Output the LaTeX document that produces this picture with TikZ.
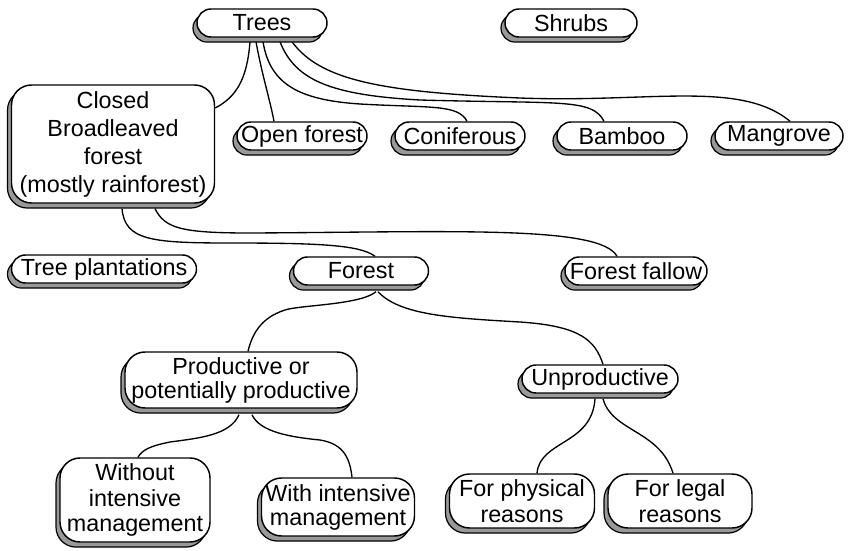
\documentclass[tikz,border=0pt]{standalone}
\usepackage{fontspec}
\setmainfont{Liberation Sans}
\usetikzlibrary{shadows,calc,backgrounds}
\begin{document}
\begin{tikzpicture}[x=0.75pt,y=-0.75pt,
  nw/.style={minimum width=#1*0.75pt},
  nh/.style={minimum height=#1*0.75pt},
  box/.style={draw, line width=1.1pt, fill=white, inner sep=0pt, align=center,
    font=\fontsize{17.5}{19}\selectfont,
    general shadow={shadow xshift=-3pt, shadow yshift=-3.8pt, fill=black!40,
      draw=black, line width=0.9pt}},
  pill/.style={box, nh=28, rounded corners=10.5pt},
  card/.style={box, rounded corners=15pt},
  link/.style={draw, line width=1pt}]
\useasboundingbox (0,0) rectangle (852,550);

% top row
\node[pill, nw=130] (trees)  at (262,23) {Trees};
\node[pill, nw=132] (shrubs) at (571,23) {Shrubs};

% tree types
\node[card, nw=203, nh=118, font=\fontsize{17.5}{21}\selectfont] (closed) at (113,144)
  {Closed\\Broadleaved\\forest\\(mostly rainforest)};
\node[pill, nw=130] (open)     at (302,136) {Open forest};
\node[pill, nw=130] (conif)    at (460,136) {Coniferous};
\node[pill, nw=130] (bamboo)   at (622,136) {Bamboo};
\node[pill, nw=128] (mangrove) at (779,136) {Mangrove};

% forest row
\node[pill, nw=185] (plant)  at (104,269) {Tree plantations};
\node[pill, nw=135] (forest) at (361,271) {Forest};
\node[pill, nw=142] (fallow) at (636,271) {Forest fallow};

% forest subdivisions
\node[card, nw=232, nh=56, font=\fontsize{17.5}{18}\selectfont] (prod) at (241,380)
  {Productive or\\potentially productive};
\node[pill, nw=156] (unprod) at (600,379) {Unproductive};

\node[card, nw=150, nh=84] (without) at (135,500)
  {Without\\intensive\\management};
\node[card, nw=153, nh=58, font=\fontsize{17.5}{18}\selectfont] (with) at (338,507)
  {With intensive\\management};
\node[card, nw=145, nh=54] (phys)  at (522,501) {For physical\\reasons};
\node[card, nw=144, nh=54] (legal) at (680,501) {For legal\\reasons};

\begin{scope}[on background layer]
  % from Trees
  \path[link] ($(trees.south)+(-12,4)$) .. controls (247,80) and (236,97) .. ($(closed.east)+(0,-36)$);
  \path[link] ($(trees.south)+(-6,4)$) .. controls (262,75) and (270,100) .. ($(open.north)+(-28,0)$);
  \path[link] ($(trees.south)+(1,4)$) .. controls (270,85) and (300,100) .. (360,104)
     .. controls (430,108) and (458,104) .. ($(conif.north)+(7,0)$);
  \path[link] ($(trees.south)+(18,4)$) .. controls (295,80) and (330,95) .. (420,100)
     .. controls (560,104) and (592,98) .. ($(bamboo.north)+(-18,0)$);
  \path[link] ($(trees.south)+(30,4)$) .. controls (320,80) and (380,92) .. (520,98)
     .. controls (650,103) and (740,80) .. ($(mangrove.north)+(11,0)$);
  % from the closed broadleaved forest
  \path[link] ($(closed.south)+(9,5)$) .. controls (125,240) and (150,243) .. (230,243)
     .. controls (320,243) and (360,245) .. ($(forest.north)+(14,0)$);
  \path[link] ($(closed.south)+(42,5)$) .. controls (165,228) and (180,233) .. (250,233)
     .. controls (450,232) and (600,225) .. ($(fallow.north)+(-19,0)$);
  % from Forest
  \path[link] ($(forest.south)+(15,6)$) .. controls (360,305) and (300,305) .. (285,310)
     .. controls (260,318) and (252,335) .. ($(prod.north)+(7,0)$);
  \path[link] ($(forest.south)+(17,6)$) .. controls (400,315) and (450,318) .. (520,322)
     .. controls (580,326) and (595,340) .. ($(unprod.north)+(3,0)$);
  % from Productive
  \path[link] ($(prod.south)+(-2,6)$) .. controls (230,435) and (200,438) .. (170,442)
     .. controls (150,446) and (142,450) .. ($(without.north)+(3,0)$);
  \path[link] ($(prod.south)+(11,6)$) .. controls (260,432) and (290,437) .. (320,440)
     .. controls (345,444) and (350,460) .. ($(with.north)+(14,0)$);
  % from Unproductive
  \path[link] ($(unprod.south)+(-5,5)$) .. controls (592,445) and (540,440) .. ($(phys.north)+(15,0)$);
  \path[link] ($(unprod.south)+(3,5)$) .. controls (612,432) and (660,430) .. ($(legal.north)+(-7,0)$);
\end{scope}
\end{tikzpicture}
\end{document}
